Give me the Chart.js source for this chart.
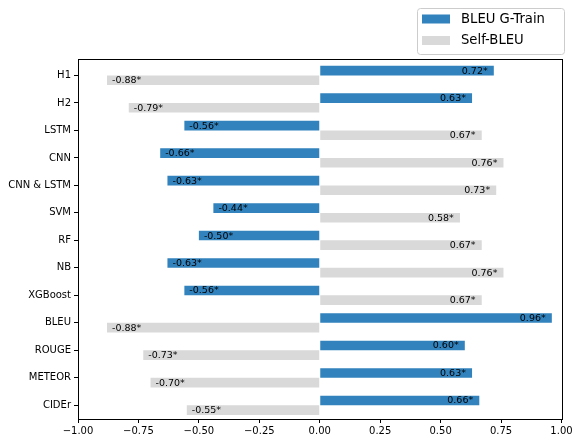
<!DOCTYPE html>
<html>
<head>
<meta charset="utf-8">
<script src="https://cdn.jsdelivr.net/npm/chart.js@4/dist/chart.umd.min.js"></script>
<style>
  html, body { margin: 0; padding: 0; background: #fff; }
  #wrap { width: 575px; height: 440px; }
</style>
</head>
<body>
<div id="wrap"><canvas id="chart" width="575" height="440"></canvas></div>
<script>
// data
const categories = ['H1', 'H2', 'LSTM', 'CNN', 'CNN & LSTM', 'SVM', 'RF', 'NB', 'XGBoost', 'BLEU', 'ROUGE', 'METEOR', 'CIDEr'];
const bleuGTrain = [0.72, 0.63, -0.56, -0.66, -0.63, -0.44, -0.50, -0.63, -0.56, 0.96, 0.60, 0.63, 0.66];
const selfBleu = [-0.88, -0.79, 0.67, 0.76, 0.73, 0.58, 0.67, 0.76, 0.67, -0.88, -0.73, -0.70, -0.55];
const xTicks = [-1, -0.75, -0.5, -0.25, 0, 0.25, 0.5, 0.75, 1];
const seriesNames = ['BLEU G-Train', 'Self-BLEU'];

const BLUE = '#3182bd';
const GRAY = '#d9d9d9';
const FONT = "'DejaVu Sans', sans-serif";

const toPoints = (vals) => vals.map((v, i) => ({ x: v, y: i }));
const fmtTick = (v) => (v < 0 ? '\u2212' : '') + Math.abs(v).toFixed(2);

// value labels inside bars, frame and legend box
const extras = {
  id: 'extras',
  afterDatasetsDraw(chart) {
    const ctx = chart.ctx;
    ctx.save();
    ctx.font = '9.5px ' + FONT;
    ctx.fillStyle = '#000';
    ctx.textBaseline = 'middle';
    ctx.textAlign = 'left';
    chart.data.datasets.forEach((ds, di) => {
      const meta = chart.getDatasetMeta(di);
      meta.data.forEach((bar, i) => {
        const v = ds.data[i].x;
        const txt = v.toFixed(2) + '*';
        const x = v >= 0 ? bar.x - 32 : bar.x + 5;
        ctx.fillText(txt, x, bar.y + 0.5);
      });
    });
    ctx.restore();
  },
  afterDraw(chart) {
    const ctx = chart.ctx;
    const a = chart.chartArea;
    ctx.save();
    ctx.strokeStyle = '#000';
    ctx.lineWidth = 1;
    ctx.strokeRect(Math.round(a.left) + 0.5, Math.round(a.top) + 0.5,
      Math.round(a.right - a.left), Math.round(a.bottom - a.top));

    // legend
    const lx = 417.5, ly = 8.5, lw = 147, lh = 46;
    ctx.fillStyle = 'rgba(255,255,255,0.8)';
    ctx.strokeStyle = '#cccccc';
    ctx.beginPath();
    ctx.roundRect(lx, ly, lw, lh, 3);
    ctx.fill();
    ctx.stroke();
    const colors = [BLUE, GRAY];
    ctx.font = '13.2px ' + FONT;
    ctx.textBaseline = 'middle';
    ctx.textAlign = 'left';
    seriesNames.forEach((name, i) => {
      const cy = 19 + i * 21.5;
      ctx.fillStyle = colors[i];
      ctx.fillRect(422, cy - 4.5, 28, 9);
      ctx.fillStyle = '#000';
      ctx.fillText(name, 461, cy + 0.5);
    });
    ctx.restore();
  }
};

const ctx = document.getElementById('chart').getContext('2d');
new Chart(ctx, {
  type: 'bar',
  data: {
    datasets: [
      { label: seriesNames[0], data: toPoints(bleuGTrain), backgroundColor: BLUE, borderWidth: 0 },
      { label: seriesNames[1], data: toPoints(selfBleu), backgroundColor: GRAY, borderWidth: 0 }
    ]
  },
  plugins: [extras],
  options: {
    indexAxis: 'y',
    responsive: false,
    maintainAspectRatio: false,
    animation: { duration: 0 },
    categoryPercentage: 0.7,
    barPercentage: 1.0,
    layout: { padding: { top: 59, right: 13.5, left: 0, bottom: 0 } },
    plugins: {
      legend: { display: false },
      tooltip: { enabled: false }
    },
    scales: {
      x: {
        type: 'linear',
        min: -1,
        max: 1,
        offset: false,
        afterBuildTicks: (scale) => { scale.ticks = xTicks.map(v => ({ value: v })); },
        afterFit: (scale) => { scale.height = 21; },
        ticks: {
          color: '#000',
          font: { family: FONT, size: 10 },
          padding: 2,
          maxRotation: 0,
          callback: (v) => fmtTick(v)
        },
        grid: { drawOnChartArea: false, offset: false, color: '#000', tickLength: 4, tickWidth: 1 },
        border: { display: true, color: '#000', width: 1 }
      },
      y: {
        type: 'linear',
        reverse: true,
        offset: false,
        min: -0.6,
        max: 12.5,
        afterBuildTicks: (scale) => { scale.ticks = categories.map((c, i) => ({ value: i })); },
        afterFit: (scale) => { scale.width = 78; },
        ticks: {
          color: '#000',
          font: { family: FONT, size: 10 },
          padding: 3,
          callback: (v) => categories[v]
        },
        grid: { drawOnChartArea: false, offset: false, color: '#000', tickLength: 4, tickWidth: 1 },
        border: { display: true, color: '#000', width: 1 }
      }
    }
  }
});
</script>
</body>
</html>
